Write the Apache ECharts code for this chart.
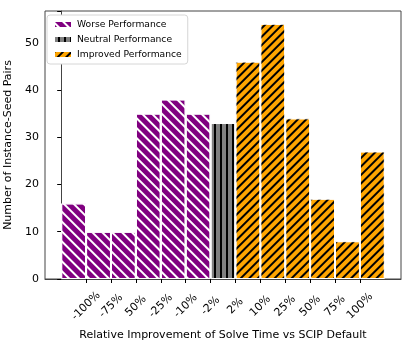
<!DOCTYPE html>
<html>
<head>
<meta charset="utf-8">
<script src="https://cdn.jsdelivr.net/npm/echarts@6/dist/echarts.min.js"></script>
<style>
  html, body { margin: 0; padding: 0; background: #fff; }
  #chart { width: 411px; height: 354px; }
</style>
</head>
<body>
<div id="chart"></div>
<script>
// bin edges sit at x = 1..12, bars centred in between
var tickLabels = ['-100%', '-75%', '50%', '-25%', '-10%', '-2%', '2%', '10%', '25%', '50%', '75%', '100%'];
var worseCounts = [16, 10, 10, 35, 38, 35];
var neutralCounts = [33];
var improvedCounts = [46, 54, 34, 17, 8, 27];

var FONT = 'DejaVu Sans';

function toBins(counts, startBin) {
    return counts.map(function(v, i) { return [startBin + i + 0.5, v]; });
}

function hatch(color, width, gap, rotation) {
    return {symbol: 'rect', symbolSize: 1, color: color, dashArrayX: [1, 0], dashArrayY: [width, gap], rotation: rotation};
}

var edgeValues = tickLabels.map(function(_, i) { return i + 1; });

var chart = echarts.init(document.getElementById('chart'), null, {renderer: 'canvas'});

chart.setOption({
    animation: false,
    grid: {
        left: 45, right: 10, top: 11, bottom: 75,
        outerBoundsMode: 'none',
        show: true, borderColor: '#444', borderWidth: 1, backgroundColor: 'transparent'
    },
    legend: {
        orient: 'vertical',
        left: 47, top: 15,
        padding: [4, 6, 4, 6],
        borderColor: '#d6d6d6', borderWidth: 1, borderRadius: 3,
        backgroundColor: '#fff',
        itemWidth: 18, itemHeight: 7, itemGap: 4, itemTextGap: 7,
        icon: 'rect',
        textStyle: {fontFamily: FONT, fontSize: 9.2, color: '#000', lineHeight: 11},
        data: ['Worse Performance', 'Neutral Performance', 'Improved Performance']
    },
    xAxis: {
        type: 'value',
        min: -0.65, max: 13.65,
        name: 'Relative Improvement of Solve Time vs SCIP Default',
        nameLocation: 'middle', nameGap: 51,
        nameTextStyle: {fontFamily: FONT, fontSize: 11, color: '#000'},
        axisLine: {show: true, lineStyle: {color: '#444', width: 1}},
        axisTick: {show: true, inside: false, length: 4, lineStyle: {color: '#000'}, customValues: edgeValues},
        axisLabel: {
            customValues: edgeValues,
            rotate: 45, align: 'center', verticalAlign: 'middle', margin: 27,
            fontFamily: FONT, fontSize: 11, color: '#000',
            formatter: function(v) { return tickLabels[Math.round(v) - 1]; }
        },
        splitLine: {show: false}
    },
    yAxis: {
        type: 'value',
        min: 0, max: 56.7, interval: 10,
        name: 'Number of Instance-Seed Pairs',
        nameLocation: 'middle', nameGap: 28,
        nameTextStyle: {fontFamily: FONT, fontSize: 11, color: '#000'},
        axisLine: {show: true, lineStyle: {color: '#444', width: 1}},
        axisTick: {show: true, inside: false, length: 4, lineStyle: {color: '#000'}},
        axisLabel: {
            fontFamily: FONT, fontSize: 11, color: '#000', margin: 6,
            formatter: function(v) { return v % 10 === 0 ? String(v) : ''; }
        },
        splitLine: {show: false}
    },
    series: [
        {
            name: 'Worse Performance',
            type: 'bar',
            barWidth: '100%', barGap: '-100%',
            data: toBins(worseCounts, 0),
            itemStyle: {
                color: '#800080', borderColor: '#fff', borderWidth: 1,
                decal: hatch('#fff', 1.8, 4.8, Math.PI / 4)
            }
        },
        {
            name: 'Neutral Performance',
            type: 'bar',
            barWidth: '100%', barGap: '-100%',
            data: toBins(neutralCounts, 6),
            itemStyle: {
                color: '#808080', borderColor: '#fff', borderWidth: 1,
                decal: hatch('#000', 1.1, 3.9, Math.PI / 2)
            }
        },
        {
            name: 'Improved Performance',
            type: 'bar',
            barWidth: '100%', barGap: '-100%',
            data: toBins(improvedCounts, 7),
            itemStyle: {
                color: '#FFA500', borderColor: '#fff', borderWidth: 1,
                decal: hatch('#000', 1.2, 4.0, -Math.PI / 4)
            }
        }
    ]
});
</script>
</body>
</html>
